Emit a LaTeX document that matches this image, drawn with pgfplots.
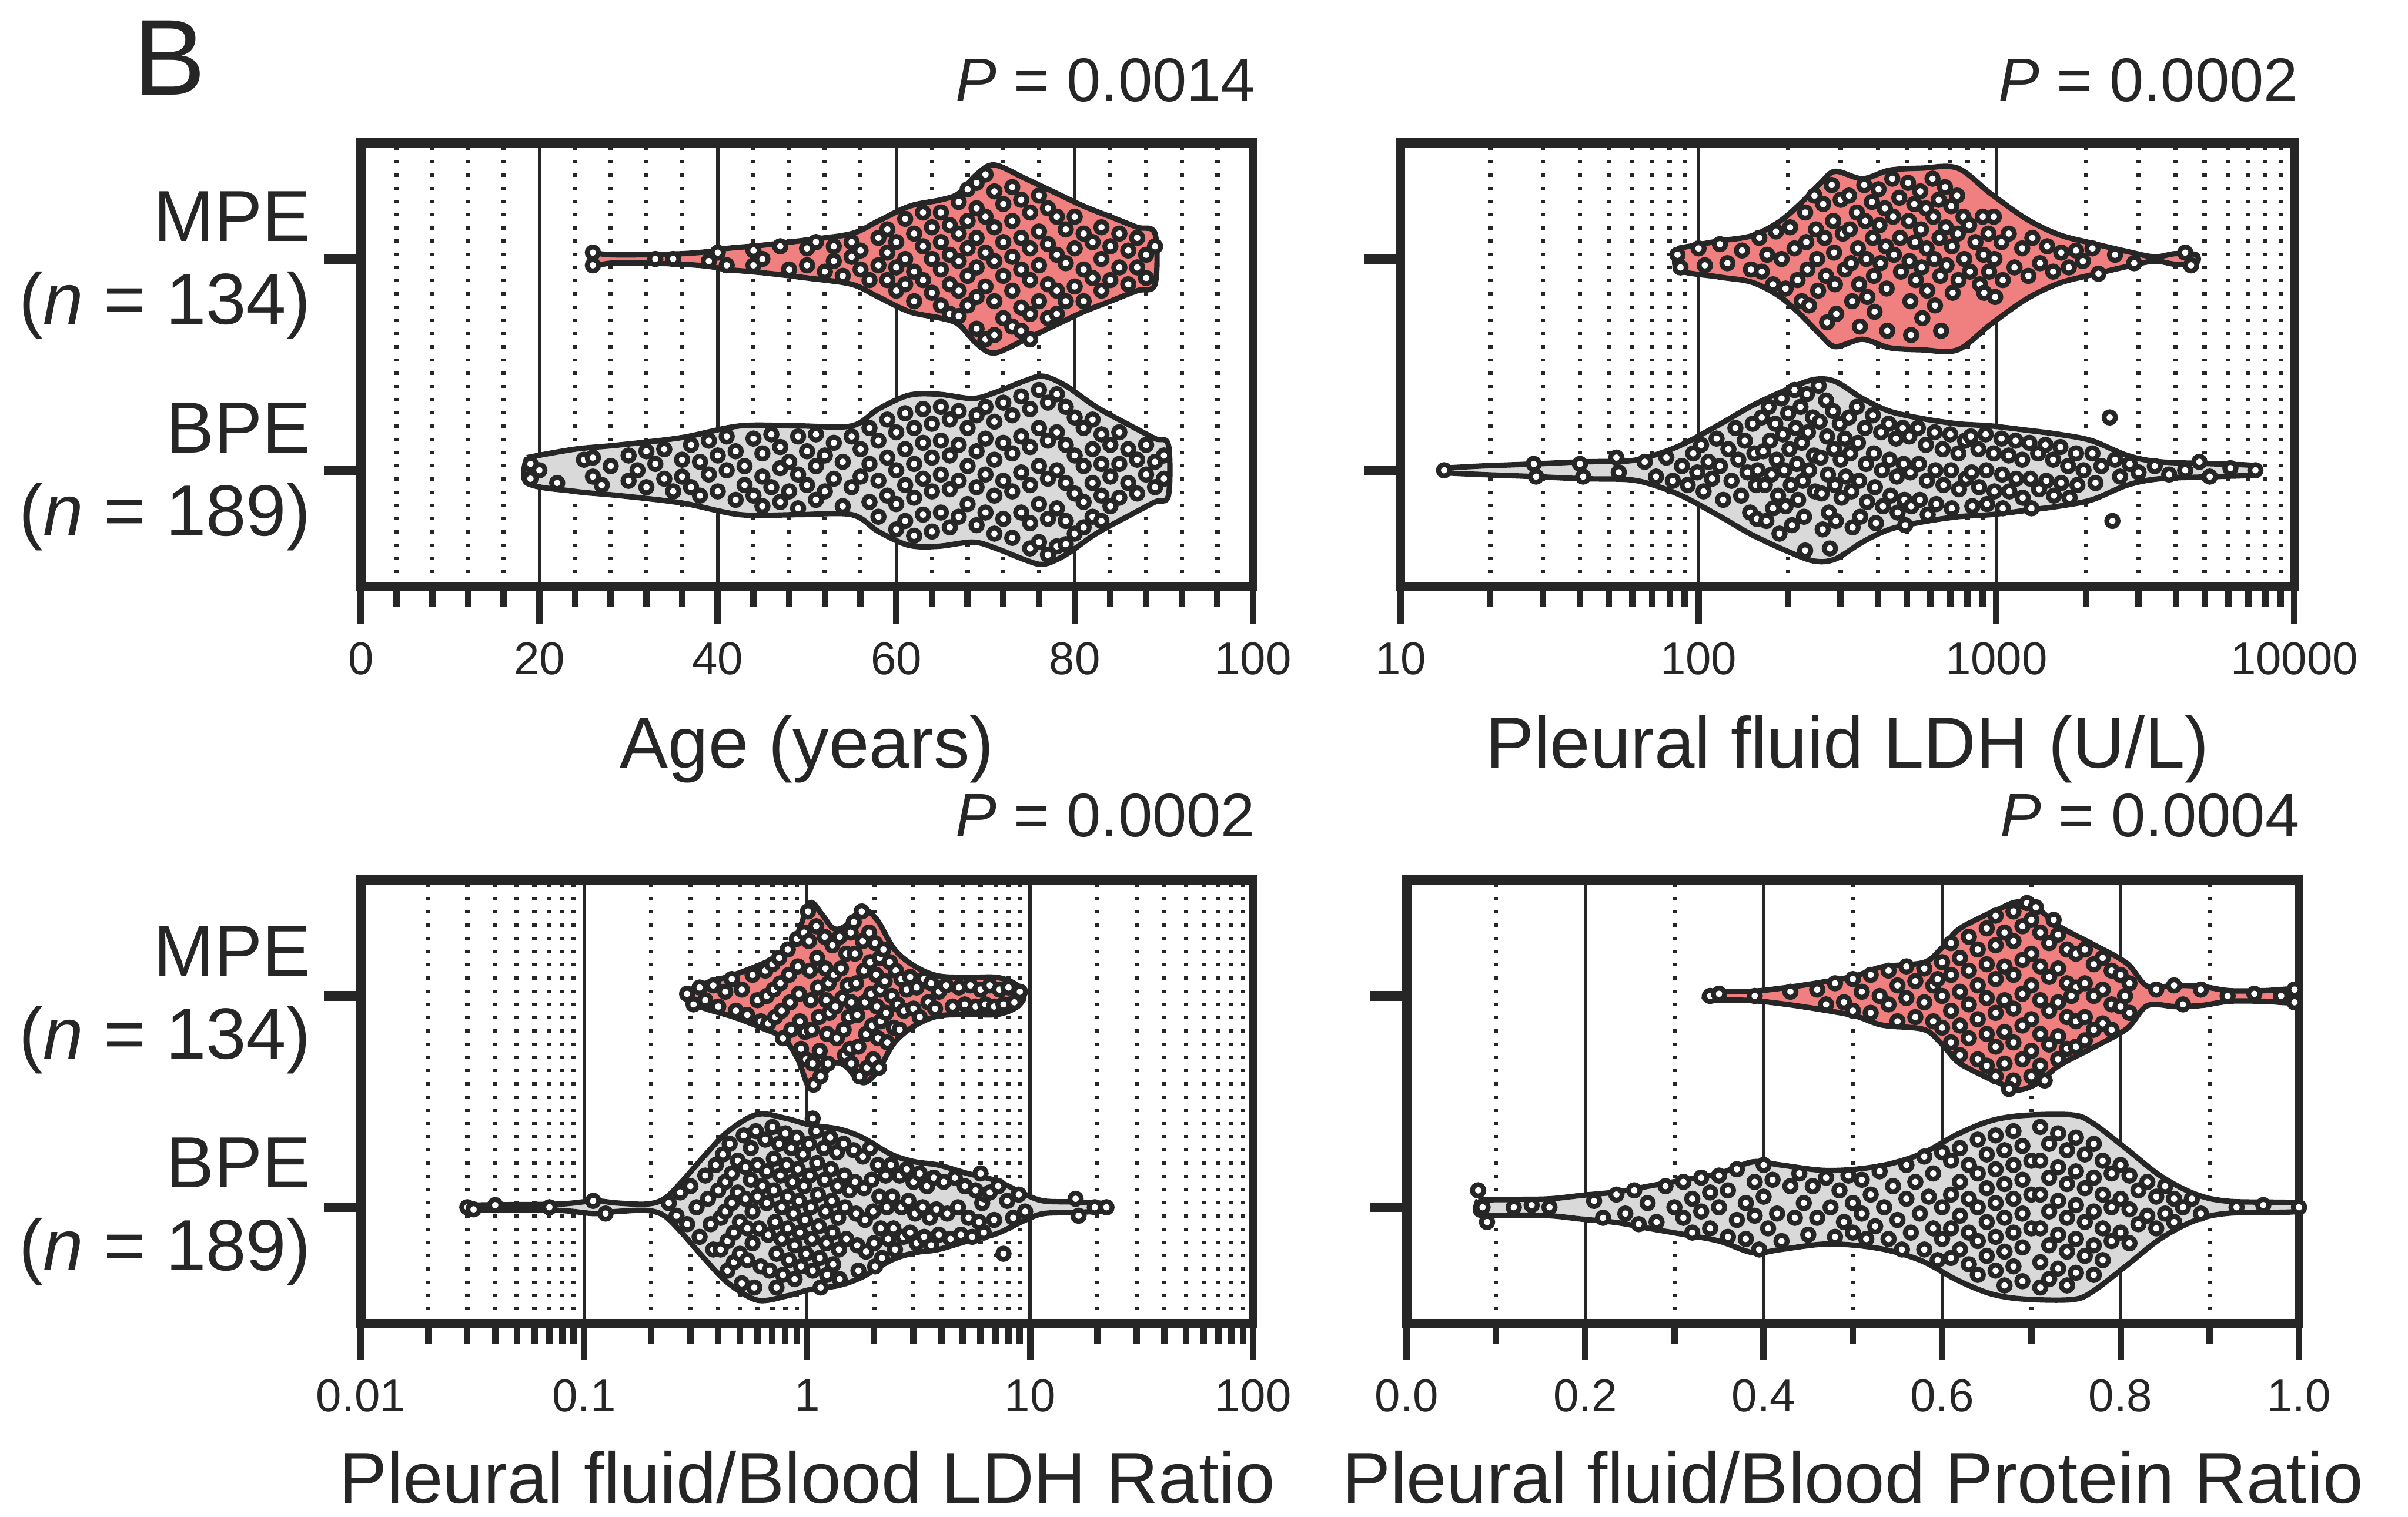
\documentclass[border=0pt]{standalone}
\usepackage{fontspec}
\setmainfont{Liberation Sans}
\usepackage{pgfplots}
\pgfplotsset{compat=1.18}
\definecolor{dk}{RGB}{38,38,38}
\definecolor{mpe}{RGB}{240,128,128}
\definecolor{bpe}{RGB}{217,217,217}
\pgfplotsset{
  panel/.style={
    scale only axis, height=2.89cm, ymin=0.45, ymax=2.55,
    ytick={1,2}, yticklabels={\relax,\relax}, ytick pos=left, xtick pos=left,
    tick align=outside, major tick length=2.4mm, minor tick length=1.3mm,
    axis line style={line width=1.7pt, dk},
    xtick style={line width=1.2pt, dk}, ytick style={line width=1.8pt, dk},
    xmajorgrids, xminorgrids,
    major grid style={line width=0.6pt, dk, solid},
    minor grid style={line width=0.8pt, dk, dash pattern=on 0.6pt off 1.85pt},
    xticklabel style={font=\fontsize{8.5}{10}\selectfont, text=dk},
    /pgf/number format/assume math mode=true,
  },
  vm/.style={draw=dk, fill=mpe, line width=1.0pt, smooth, tension=0.55},
  vb/.style={draw=dk, fill=bpe, line width=1.0pt, smooth, tension=0.55},
  dots/.style={only marks, mark=*, mark size=1.05pt, mark options={fill=white, draw=dk, line width=0.9pt}},
}
\begin{document}
\begin{tikzpicture}
\path[use as bounding box] (0,0) rectangle (15.68,9.88);
% ---------------- Top left: Age
\begin{axis}[panel, at={(2.35cm,6.06cm)}, anchor=south west, width=5.81cm,
  xmin=0, xmax=100, xtick={0,20,40,60,80,100}, xticklabels={0,20,40,60,80,100},
  minor xtick={4,8,12,16,24,28,32,36,44,48,52,56,64,68,72,76,84,88,92,96}]
\addplot[vm] coordinates {(26,2.03) (28,2.02) (32,2.02) (36,2.025) (39,2.035) (41,2.05) (45,2.065) (50,2.09) (55,2.12) (58,2.18) (61.5,2.25) (65,2.28) (67,2.31) (69,2.40) (71,2.445) (74.5,2.38) (78,2.31) (81,2.25) (84,2.2) (87,2.15) (89,2.12)
 (89,1.88) (87,1.85) (84,1.8) (81,1.75) (78,1.69) (74.5,1.62) (71,1.555) (69,1.6) (67,1.69) (65,1.72) (61.5,1.75) (58,1.82) (55,1.88) (50,1.91) (45,1.935) (41,1.95) (39,1.965) (36,1.975) (32,1.98) (28,1.98) (26,1.97) (26,2.03)};
\addplot[vb] coordinates {(18.6,1.06) (24,1.1) (29,1.12) (36,1.155) (42.5,1.21) (49,1.21) (55,1.21) (58,1.29) (61.4,1.355) (64.7,1.36) (68.6,1.34) (71.2,1.37) (74.5,1.425) (76.5,1.445) (79,1.4) (82.4,1.3) (86.3,1.21) (89,1.15) (90.5,1.12)
 (90.5,0.88) (89,0.85) (86.3,0.79) (82.4,0.7) (79,0.6) (76.5,0.555) (74.5,0.575) (71.2,0.63) (68.6,0.66) (64.7,0.64) (61.4,0.645) (58,0.71) (55,0.79) (49,0.79) (42.5,0.79) (36,0.845) (29,0.88) (24,0.9) (18.6,0.94) (18.6,1.06)};
\addplot[dots] coordinates {(26,2.03) (26,1.97) (33,2.0) (35,2.0) (39,1.99) (40,2.03) (41,1.97) (44,2.04) (44,1.97) (45,2.0) (47,2.06) (48,1.95) (50,2.05) (50,1.97)
(51,2.08) (52,1.94) (53,2.06) (53,1.99) (54,1.92) (55,2.08) (55,2.01) (56,1.95) (56,2.04) (57,1.9)
(58,2.1) (58,1.97) (59,2.14) (59,2.03) (59,1.9) (60,2.08) (60,1.96) (60,1.85) (61,2.19) (61,2.0) (61,1.88) (62,2.12) (62,1.94) (62,1.8) (63,2.22) (63,2.06) (63,1.9) (64,2.15) (64,2.0) (64,1.84)
(65,2.22) (65,2.08) (65,1.95) (65,1.78) (66,2.16) (66,2.02) (66,1.88) (66,1.74) (67,2.27) (67,2.12) (67,1.99) (67,1.85) (67,1.73) (68,2.33) (68,2.18) (68,2.05) (68,1.92) (68,1.78) (69,2.36) (69,2.24) (69,2.1) (69,1.96) (69,1.82) (69,1.67) (70,2.4) (70,2.2) (70,2.03) (70,1.87) (70,1.62)
(71,2.32) (71,2.15) (71,1.99) (71,1.8) (71,1.64) (72,2.26) (72,2.08) (72,1.92) (72,1.72) (73,2.34) (73,2.18) (73,2.01) (73,1.85) (73,1.68) (74,2.28) (74,2.1) (74,1.95) (74,1.77) (74,1.66) (75,2.22) (75,2.05) (75,1.9) (75,1.74) (75,1.62) (76,2.3) (76,2.13) (76,1.97) (76,1.8) (77,2.24) (77,2.07) (77,1.88) (77,1.72)
(78,2.2) (78,2.02) (78,1.85) (78,1.74) (79,2.14) (79,1.98) (79,1.8) (80,2.2) (80,2.05) (80,1.87) (81,2.12) (81,1.95) (81,1.8) (82,2.08) (82,1.91) (83,2.15) (83,2.0) (83,1.85) (84,2.06) (84,1.9)
(85,2.12) (85,1.96) (86,2.04) (86,1.88) (87,2.1) (87,1.96) (88,2.02) (88,1.91) (89,2.06)};
\addplot[dots] coordinates {(19,1.03) (19,0.96) (20,1.0) (22,0.94) (25,1.05) (26,0.97) (26,1.06) (27,0.93) (28,1.02) (30,1.07) (30,0.95)
(31,1.0) (32,1.09) (32,0.92) (33,1.03) (34,0.96) (34,1.1) (35,0.9) (36,1.05) (36,0.97)
(37,1.12) (37,0.92) (38,1.04) (38,0.88) (39,1.14) (39,0.98) (40,1.07) (40,0.9) (41,1.16) (41,1.0) (42,1.09) (42,0.86) (43,1.02) (43,0.93)
(44,1.15) (44,0.88) (45,1.08) (45,0.97) (45,0.83) (46,1.17) (46,0.92) (47,1.11) (47,1.01) (47,0.85) (48,1.04) (48,0.9) (49,1.16) (49,0.98) (49,0.82) (50,1.09) (50,0.93) (51,1.17) (51,1.02) (51,0.86) (52,1.07) (52,0.9) (53,1.13) (53,0.96) (54,1.04) (54,0.83) (55,1.16) (55,0.92)
(56,1.1) (56,0.97) (57,1.2) (57,1.03) (57,0.85) (58,1.14) (58,0.95) (58,0.78) (59,1.24) (59,1.06) (59,0.88) (60,1.18) (60,1.0) (60,0.84) (60,0.72)
(61,1.27) (61,1.1) (61,0.93) (61,0.76) (62,1.2) (62,1.03) (62,0.87) (62,0.69) (63,1.29) (63,1.13) (63,0.96) (63,0.79) (64,1.22) (64,1.06) (64,0.9) (64,0.71) (65,1.3) (65,1.14) (65,0.98) (65,0.8) (66,1.24) (66,1.07) (66,0.91) (66,0.73) (67,1.28) (67,1.12) (67,0.95) (67,0.78) (68,1.2) (68,1.02) (68,0.84) (69,1.26) (69,1.09) (69,0.92) (69,0.74) (70,1.3) (70,1.15) (70,0.98) (70,0.8)
(71,1.23) (71,1.05) (71,0.88) (71,0.7) (72,1.32) (72,1.13) (72,0.95) (72,0.77) (73,1.26) (73,1.08) (73,0.9) (73,0.68) (74,1.35) (74,1.16) (74,0.99) (74,0.8) (75,1.29) (75,1.11) (75,0.93) (75,0.75) (75,0.63)
(76,1.38) (76,1.2) (76,1.02) (76,0.84) (76,0.66) (77,1.32) (77,1.14) (77,0.96) (77,0.77) (77,0.6) (78,1.36) (78,1.18) (78,1.0) (78,0.82) (78,0.64) (79,1.3) (79,1.12) (79,0.94) (79,0.76) (79,0.65) (80,1.25) (80,1.07) (80,0.89) (80,0.7)
(81,1.2) (81,1.02) (81,0.85) (81,0.73) (82,1.24) (82,1.1) (82,0.94) (82,0.78) (83,1.17) (83,1.03) (83,0.88) (83,0.76) (84,1.12) (84,0.97) (84,0.83) (85,1.18) (85,1.03) (85,0.87)
(86,1.1) (86,0.94) (87,1.05) (87,0.89) (88,1.12) (88,0.98) (89,1.04) (89,0.92) (90,1.07) (90,0.96)};
\end{axis}
% ---------------- Top right: LDH
\begin{axis}[panel, at={(9.12cm,6.06cm)}, anchor=south west, width=5.82cm,
  xmode=log, log basis x=10, xmin=10, xmax=10000, xtick={10,100,1000,10000}, xticklabels={10,100,1000,10000},
  minor xtick={20,30,40,50,60,70,80,90,200,300,400,500,600,700,800,900,2000,3000,4000,5000,6000,7000,8000,9000}]
\addplot[vm] coordinates {(85,2.05) (117,2.085) (151,2.11) (186,2.175) (219,2.26) (257,2.36) (288,2.415) (355,2.38) (437,2.42) (562,2.43) (741,2.43) (955,2.31) (1259,2.19) (1622,2.115) (2089,2.075) (2754,2.035) (3388,2.01) (3981,2.025) (4677,2.02)
 (4677,1.98) (3981,1.975) (3388,1.99) (2754,1.965) (2089,1.925) (1622,1.885) (1259,1.81) (955,1.69) (741,1.57) (562,1.57) (437,1.58) (355,1.62) (288,1.585) (257,1.64) (219,1.74) (186,1.825) (151,1.89) (117,1.915) (85,1.95) (85,2.05)};
\addplot[vb] coordinates {(13.9,1.01) (18.6,1.02) (28.2,1.03) (40.7,1.04) (58.9,1.045) (72.4,1.075) (89.1,1.125) (117,1.215) (151,1.305) (200,1.385) (245,1.43) (288,1.42) (355,1.34) (437,1.28) (562,1.245) (741,1.22) (955,1.21) (1259,1.19) (1622,1.17) (2089,1.14) (2754,1.07) (3548,1.04) (5495,1.03) (7413,1.02)
 (7413,0.98) (5495,0.97) (3548,0.96) (2754,0.93) (2089,0.86) (1622,0.83) (1259,0.81) (955,0.79) (741,0.78) (562,0.755) (437,0.72) (355,0.66) (288,0.58) (245,0.57) (200,0.615) (151,0.695) (117,0.785) (89.1,0.875) (72.4,0.925) (58.9,0.955) (40.7,0.96) (28.2,0.97) (18.6,0.98) (13.9,0.99) (13.9,1.01)};
\addplot[dots] coordinates {(85,2.02) (87,1.96) (100,2.05) (105,1.97) (118,2.07) (125,1.98) (140,2.04) (150,1.95)
(160,2.1) (163,1.94) (170,2.02) (178,1.88) (182,2.13) (190,2.0) (196,1.86) (203,2.15) (210,2.05) (215,1.9) (222,1.8)
(228,2.22) (230,2.08) (232,1.95) (235,1.78) (245,2.3) (248,2.14) (250,2.0) (252,1.85) (262,2.26) (265,2.1) (268,1.92) (270,1.7) (280,2.35) (283,2.18) (285,2.03) (287,1.88) (290,1.74) (300,2.28) (305,2.12) (310,1.95)
(320,2.3) (322,2.14) (325,1.98) (328,1.8) (340,2.22) (343,2.05) (346,1.88) (348,1.68) (360,2.35) (363,2.18) (366,2.0) (369,1.82) (382,2.27) (385,2.1) (388,1.92) (390,1.75) (402,2.33) (405,2.16) (408,1.98) (422,2.24) (425,2.06) (428,1.86) (430,1.66) (447,2.38) (450,2.2) (453,2.02) (472,2.29) (475,2.1) (478,1.94)
(505,2.36) (508,2.18) (511,1.99) (514,1.8) (517,1.64) (530,2.26) (533,2.08) (536,1.9) (555,2.32) (558,2.14) (561,1.96) (564,1.72) (580,2.24) (583,2.05) (586,1.85) (610,2.38) (614,2.2) (618,2.0) (622,1.78) (640,2.28) (644,2.1) (648,1.92) (652,1.66) (672,2.34) (676,2.15) (680,1.97) (705,2.25) (709,2.06) (713,1.84) (738,2.3) (742,2.12) (746,1.9) (775,2.2) (780,2.0) (810,2.16) (815,1.94) (850,2.08) (880,1.88)
(900,2.2) (905,2.02) (910,1.84) (940,2.12) (945,1.94) (980,2.2) (985,2.0) (990,1.82) (1040,2.08) (1050,1.9) (1100,2.12) (1150,1.96) (1220,2.05)
(1280,1.92) (1320,2.1) (1400,1.98) (1480,2.06) (1550,1.94) (1650,2.03) (1750,1.96) (1850,2.04) (1950,1.99)
(2100,2.05) (2200,1.93) (2500,2.02) (2900,1.98) (4300,2.03) (4500,1.97)};
\addplot[dots] coordinates {(14,1.0) (28,1.03) (28.5,0.97) (40,1.03) (41,0.97) (53,1.06) (54,0.99)
(66,1.04) (72,0.97) (78,1.06) (82,0.95) (88,1.02) (92,0.93) (96,1.08) (99,0.99)
(102,1.12) (104,0.9) (108,1.04) (111,0.96) (115,1.15) (118,1.02) (121,0.86) (126,1.1) (129,0.95) (133,1.2) (136,1.05) (139,0.88) (143,1.14) (146,0.99) (149,0.8) (152,1.22) (154,1.08) (156,0.93) (157,0.77) (158,1.0)
(163,1.25) (165,1.09) (167,0.93) (169,0.76) (172,1.3) (174,1.14) (176,0.98) (178,0.82) (181,1.22) (183,1.05) (185,0.88) (187,0.7) (190,1.34) (192,1.17) (194,1.0) (196,0.83) (200,1.27) (202,1.1) (204,0.93) (206,0.74) (210,1.38) (212,1.2) (214,1.03) (216,0.86) (220,1.3) (222,1.13) (224,0.95) (226,0.78) (228,0.62) (231,1.36) (233,1.18) (235,1.0) (242,1.25) (244,1.07) (246,0.9)
(253,1.4) (255,1.23) (257,1.06) (259,0.89) (261,0.72) (268,1.33) (270,1.16) (272,0.98) (274,0.8) (276,0.63) (283,1.28) (285,1.1) (287,0.93) (289,0.76) (298,1.22) (300,1.05) (302,0.87) (310,1.15) (312,0.97)
(320,1.25) (323,1.08) (326,0.9) (329,0.73) (340,1.3) (343,1.13) (346,0.95) (349,0.78) (362,1.2) (365,1.03) (368,0.85) (385,1.26) (388,1.08) (391,0.92) (394,0.75) (410,1.18) (413,1.0) (416,0.83) (435,1.22) (438,1.05) (441,0.88) (460,1.15) (463,0.97) (466,0.8) (485,1.2) (488,1.03) (491,0.86) (494,0.74)
(510,1.16) (514,0.99) (518,0.83) (545,1.2) (549,1.03) (553,0.86) (580,1.12) (584,0.95) (588,0.79) (620,1.18) (624,1.0) (628,0.84) (660,1.1) (664,0.93) (700,1.17) (704,1.0) (708,0.82) (745,1.08) (749,0.91) (785,1.14) (790,0.96)
(820,1.16) (825,0.99) (830,0.83) (870,1.1) (875,0.92) (920,1.17) (925,1.0) (930,0.84) (980,1.08) (985,0.9) (1040,1.15) (1045,0.98) (1050,0.82) (1100,1.07) (1105,0.9) (1160,1.14) (1165,0.96) (1220,1.05) (1225,0.87)
(1290,1.13) (1300,0.96) (1310,0.82) (1380,1.08) (1390,0.91) (1460,1.12) (1470,0.95) (1550,1.05) (1560,0.88) (1640,1.11) (1650,0.94) (1740,1.02) (1760,0.87) (1850,1.08) (1870,0.93) (1960,1.0)
(2100,1.08) (2150,0.94) (2250,1.02) (2400,1.25) (2450,0.76) (2500,1.05) (2600,0.97) (2800,1.03) (3000,0.99)
(3400,1.02) (3800,0.98) (4300,1.0) (4800,1.04) (5200,0.97) (6100,1.01) (7400,1.0)};
\end{axis}
% ---------------- Bottom left: LDH ratio
\begin{axis}[panel, at={(2.35cm,1.26cm)}, anchor=south west, width=5.81cm,
  xmode=log, log basis x=10, xmin=0.01, xmax=100, xtick={0.01,0.1,1,10,100}, xticklabels={0.01,0.1,1,10,100},
  minor xtick={0.02,0.03,0.04,0.05,0.06,0.07,0.08,0.09,0.2,0.3,0.4,0.5,0.6,0.7,0.8,0.9,2,3,4,5,6,7,8,9,20,30,40,50,60,70,80,90}]
\addplot[vm] coordinates {(0.29,2.02) (0.35,2.06) (0.47,2.1) (0.64,2.155) (0.785,2.2) (0.91,2.3) (1.03,2.44) (1.16,2.39) (1.31,2.32) (1.48,2.33) (1.77,2.41) (2.06,2.36) (2.47,2.22) (3.05,2.14) (3.87,2.095) (5.24,2.088) (7.08,2.088) (8.5,2.06) (9.3,2.02)
 (9.3,1.98) (8.5,1.94) (7.08,1.912) (5.24,1.912) (3.87,1.905) (3.05,1.86) (2.47,1.78) (2.06,1.64) (1.77,1.59) (1.48,1.67) (1.31,1.68) (1.16,1.61) (1.03,1.56) (0.91,1.7) (0.785,1.8) (0.64,1.845) (0.47,1.9) (0.35,1.94) (0.29,1.98) (0.29,2.02)};
\addplot[vb] coordinates {(0.0296,1.01) (0.042,1.012) (0.078,1.015) (0.111,1.03) (0.141,1.02) (0.191,1.015) (0.229,1.04) (0.274,1.12) (0.348,1.245) (0.444,1.36) (0.6,1.44) (0.81,1.42) (1.03,1.39) (1.39,1.37) (1.77,1.33) (2.39,1.25) (3.05,1.215) (3.87,1.2) (5.24,1.16) (7.08,1.125) (9.55,1.06) (11.5,1.03) (15.5,1.025) (19.7,1.02) (22.2,1.015)
 (22.2,0.985) (19.7,0.98) (15.5,0.975) (11.5,0.97) (9.55,0.94) (7.08,0.875) (5.24,0.84) (3.87,0.8) (3.05,0.785) (2.39,0.75) (1.77,0.67) (1.39,0.63) (1.03,0.61) (0.81,0.58) (0.6,0.56) (0.444,0.64) (0.348,0.755) (0.274,0.88) (0.229,0.96) (0.191,0.985) (0.141,0.98) (0.111,0.97) (0.078,0.985) (0.042,0.988) (0.0296,0.99) (0.0296,1.01)};
\addplot[dots] coordinates {(0.29,2.01) (0.31,1.96) (0.33,2.04) (0.35,1.98) (0.38,2.05) (0.4,1.95) (0.43,2.02) (0.46,2.08) (0.48,1.93) (0.51,2.03) (0.54,1.91) (0.57,2.1) (0.6,1.98) (0.62,1.88)
(0.65,2.12) (0.66,2.0) (0.67,1.87) (0.7,2.15) (0.71,2.03) (0.72,1.9) (0.75,2.18) (0.76,2.06) (0.77,1.93) (0.78,1.8) (0.82,2.22) (0.83,2.1) (0.84,1.97) (0.85,1.84) (0.9,2.27) (0.91,2.14) (0.92,2.01) (0.93,1.88) (0.94,1.75) (0.97,2.3) (0.98,1.83) (0.99,1.7)
(1.01,2.4) (1.02,2.26) (1.03,2.12) (1.04,1.98) (1.05,1.84) (1.06,1.68) (1.07,1.58) (1.1,2.33) (1.11,2.18) (1.12,2.04) (1.13,1.9) (1.14,1.74) (1.15,1.62) (1.2,2.28) (1.21,2.13) (1.22,1.98) (1.23,1.82) (1.24,1.68) (1.25,2.06) (1.26,1.92)
(1.3,2.24) (1.32,2.1) (1.34,1.95) (1.36,1.8) (1.4,2.28) (1.42,2.13) (1.44,1.99) (1.46,1.84) (1.48,1.72) (1.5,2.2) (1.52,2.05) (1.54,1.9) (1.56,1.75) (1.57,2.3) (1.58,1.97) (1.58,1.68)
(1.62,2.35) (1.64,2.2) (1.66,2.06) (1.68,1.91) (1.7,1.76) (1.72,1.62) (1.76,2.4) (1.78,2.26) (1.8,2.12) (1.82,1.97) (1.84,1.82) (1.86,1.66) (1.9,2.3) (1.92,2.16) (1.94,2.01) (1.96,1.86) (1.98,1.7) (2.02,2.25) (2.04,2.1) (2.06,1.95) (2.08,1.8) (2.1,1.66) (2.12,2.18) (2.13,2.03) (2.14,1.88)
(2.2,2.22) (2.23,2.07) (2.26,1.92) (2.29,1.78) (2.35,2.16) (2.4,2.0) (2.45,1.85) (2.5,2.12) (2.55,1.96) (2.6,1.84) (2.65,2.08) (2.72,1.93) (2.8,2.03)
(2.9,2.09) (3.0,1.94) (3.1,2.04) (3.2,1.9) (3.35,2.08) (3.5,1.97) (3.6,2.06) (3.75,1.94) (3.9,2.02)
(4.2,2.05) (4.5,1.95) (4.8,2.04) (5.1,1.96) (5.4,2.05) (5.7,1.95) (6.0,2.03) (6.3,1.96) (6.6,2.05) (6.9,1.95) (7.3,2.03) (7.6,1.96) (8.0,2.04) (8.5,1.97) (9.0,2.02)};
\addplot[dots] coordinates {(0.03,1.0) (0.032,0.99) (0.04,1.01) (0.07,1.0) (0.11,1.03) (0.125,0.97)
(0.24,1.02) (0.26,0.96) (0.27,1.07) (0.29,0.92) (0.3,1.1) (0.32,1.0) (0.33,0.86) (0.35,1.15) (0.36,1.04) (0.37,0.92) (0.38,0.8) (0.39,1.2) (0.4,1.08)
(0.41,0.95) (0.41,0.8) (0.42,1.25) (0.43,1.12) (0.43,0.98) (0.44,0.84) (0.44,0.7) (0.45,1.3) (0.46,1.16) (0.46,1.02) (0.47,0.88) (0.47,0.74) (0.49,1.22) (0.49,1.07) (0.5,0.93) (0.5,0.78) (0.51,0.64) (0.52,1.34) (0.53,1.19) (0.53,1.04) (0.54,0.9) (0.54,0.75) (0.56,1.28) (0.56,1.13) (0.57,0.98) (0.57,0.83) (0.58,0.62) (0.59,1.36) (0.6,1.2) (0.6,1.05) (0.61,0.9) (0.62,0.72) (0.63,1.1)
(0.65,1.32) (0.66,1.17) (0.66,1.02) (0.67,0.87) (0.68,0.7) (0.7,1.38) (0.71,1.23) (0.71,1.08) (0.72,0.93) (0.73,0.78) (0.73,0.62) (0.75,1.3) (0.76,1.15) (0.77,1.0) (0.77,0.85) (0.78,0.68) (0.8,1.35) (0.81,1.2) (0.82,1.05) (0.82,0.9) (0.83,0.75) (0.85,1.28) (0.86,1.12) (0.87,0.97) (0.88,0.82) (0.88,0.66) (0.9,1.33) (0.91,1.18) (0.92,1.03) (0.93,0.88) (0.94,0.72) (0.96,1.25) (0.97,1.1) (0.98,0.94) (0.99,0.78)
(1.02,1.3) (1.03,1.15) (1.04,1.0) (1.05,0.85) (1.06,0.7) (1.06,1.42) (1.1,1.36) (1.11,1.21) (1.12,1.06) (1.13,0.91) (1.14,0.76) (1.15,0.62) (1.19,1.28) (1.2,1.13) (1.21,0.98) (1.22,0.83) (1.23,0.68) (1.27,1.33) (1.28,1.18) (1.29,1.03) (1.3,0.88) (1.31,0.73) (1.36,1.26) (1.37,1.1) (1.38,0.95) (1.39,0.8) (1.4,0.66) (1.46,1.3) (1.47,1.15) (1.48,1.0) (1.5,0.85) (1.55,1.08)
(1.62,1.27) (1.64,1.12) (1.66,0.97) (1.68,0.82) (1.7,0.7) (1.78,1.24) (1.8,1.09) (1.82,0.94) (1.84,0.79) (1.92,1.28) (1.95,1.13) (1.98,0.98) (2.0,0.83) (2.02,0.72) (2.08,1.2) (2.11,1.05) (2.14,0.9) (2.17,0.76) (2.25,1.15) (2.28,1.0) (2.31,0.85) (2.38,1.2) (2.41,1.05) (2.44,0.9) (2.48,0.8)
(2.6,1.15) (2.65,1.0) (2.7,0.86) (2.8,1.18) (2.85,1.03) (2.9,0.88) (3.0,1.12) (3.05,0.97) (3.1,0.83) (3.2,1.16) (3.3,1.0) (3.35,0.86) (3.45,1.1) (3.55,0.95) (3.6,0.82) (3.7,1.14) (3.8,0.99) (3.9,0.87)
(4.1,1.12) (4.25,0.97) (4.4,0.85) (4.6,1.14) (4.75,1.0) (4.9,0.87) (5.1,1.1) (5.3,0.95) (5.5,0.86) (5.7,1.08) (5.9,0.93) (6.0,1.16) (6.1,1.02) (6.2,0.88) (6.3,1.06)
(6.6,1.07) (6.9,0.94) (7.2,1.1) (7.6,0.78) (7.9,1.03) (8.4,0.95) (8.9,1.06) (9.5,0.98)
(16,1.04) (16.5,0.96) (19.5,1.0) (22,1.0)};
\end{axis}
% ---------------- Bottom right: protein ratio
\begin{axis}[panel, at={(9.16cm,1.26cm)}, anchor=south west, width=5.81cm,
  xmin=0, xmax=1, xtick={0,0.2,0.4,0.6,0.8,1}, xticklabels={0.0,0.2,0.4,0.6,0.8,1.0},
  minor xtick={0.1,0.3,0.5,0.7,0.9}]
\addplot[vm] coordinates {(0.335,2.015) (0.358,2.02) (0.388,2.022) (0.426,2.04) (0.465,2.065) (0.503,2.095) (0.533,2.138) (0.579,2.158) (0.598,2.22) (0.617,2.31) (0.64,2.365) (0.663,2.41) (0.685,2.445) (0.708,2.41) (0.731,2.33) (0.769,2.245) (0.807,2.155) (0.83,2.046) (0.861,2.05) (0.891,2.045) (0.922,2.025) (0.96,2.025) (0.998,2.03)
 (0.998,1.97) (0.96,1.975) (0.922,1.975) (0.891,1.955) (0.861,1.95) (0.83,1.954) (0.807,1.845) (0.769,1.755) (0.731,1.67) (0.708,1.59) (0.685,1.555) (0.663,1.59) (0.64,1.635) (0.617,1.69) (0.598,1.78) (0.579,1.842) (0.533,1.862) (0.503,1.905) (0.465,1.935) (0.426,1.96) (0.388,1.978) (0.358,1.98) (0.335,1.985) (0.335,2.015)};
\addplot[vb] coordinates {(0.08,1.035) (0.122,1.037) (0.16,1.04) (0.198,1.057) (0.236,1.073) (0.274,1.102) (0.312,1.13) (0.35,1.16) (0.388,1.215) (0.419,1.2) (0.465,1.175) (0.503,1.18) (0.541,1.205) (0.579,1.257) (0.617,1.345) (0.655,1.41) (0.693,1.435) (0.746,1.437) (0.769,1.398) (0.807,1.275) (0.845,1.148) (0.884,1.062) (0.922,1.028) (0.998,1.02)
 (0.998,0.98) (0.922,0.972) (0.884,0.938) (0.845,0.852) (0.807,0.725) (0.769,0.602) (0.746,0.563) (0.693,0.565) (0.655,0.59) (0.617,0.655) (0.579,0.743) (0.541,0.795) (0.503,0.82) (0.465,0.825) (0.419,0.8) (0.388,0.785) (0.35,0.84) (0.312,0.87) (0.274,0.898) (0.236,0.927) (0.198,0.943) (0.16,0.96) (0.122,0.963) (0.08,0.965) (0.08,1.035)};
\addplot[dots] coordinates {(0.34,2.0) (0.35,2.01) (0.39,2.0) (0.43,2.02)
(0.46,2.03) (0.47,1.96) (0.48,2.06) (0.49,1.97) (0.5,2.08) (0.5,1.93) (0.51,2.02) (0.52,2.1) (0.52,1.92) (0.53,2.0)
(0.54,2.12) (0.54,1.96) (0.55,2.05) (0.55,1.88) (0.56,2.14) (0.56,1.99) (0.57,2.07) (0.57,1.9) (0.58,2.13) (0.58,1.97) (0.59,2.05) (0.59,1.88) (0.6,2.16) (0.6,2.0) (0.6,1.85) (0.595,2.08)
(0.61,2.25) (0.61,2.1) (0.61,1.93) (0.61,1.78) (0.62,2.18) (0.62,2.02) (0.62,1.86) (0.62,1.72) (0.63,2.28) (0.63,2.12) (0.63,1.96) (0.63,1.8) (0.64,2.22) (0.64,2.05) (0.64,1.89) (0.64,1.7) (0.65,2.32) (0.65,2.15) (0.65,1.99) (0.65,1.82) (0.65,1.67)
(0.66,2.38) (0.66,2.24) (0.66,2.08) (0.66,1.92) (0.66,1.76) (0.66,1.62) (0.67,2.3) (0.67,2.14) (0.67,1.98) (0.67,1.83) (0.67,1.68) (0.68,2.4) (0.68,2.26) (0.68,2.1) (0.68,1.94) (0.68,1.78) (0.68,1.6) (0.69,2.33) (0.69,2.17) (0.69,2.01) (0.69,1.86) (0.69,1.7) (0.7,2.36) (0.7,2.2) (0.7,2.05) (0.7,1.89) (0.7,1.74) (0.7,1.62) (0.695,2.44) (0.675,1.56)
(0.71,2.3) (0.71,2.14) (0.71,1.98) (0.71,1.82) (0.71,1.67) (0.72,2.25) (0.72,2.09) (0.72,1.93) (0.72,1.77) (0.73,2.29) (0.73,2.13) (0.73,1.97) (0.73,1.81) (0.73,1.7) (0.74,2.22) (0.74,2.06) (0.74,1.9) (0.74,1.75) (0.75,2.2) (0.75,2.04) (0.75,1.88) (0.75,1.76) (0.705,2.42) (0.715,1.6) (0.725,2.36) (0.745,2.0)
(0.76,2.22) (0.76,2.06) (0.76,1.9) (0.76,1.79) (0.77,2.15) (0.77,2.0) (0.77,1.84) (0.78,2.18) (0.78,2.03) (0.78,1.87) (0.79,2.12) (0.79,1.96) (0.79,1.84) (0.8,2.1) (0.8,1.95) (0.81,2.06) (0.81,1.92) (0.805,2.0)
(0.84,2.03) (0.86,2.05) (0.87,1.96) (0.89,2.03) (0.92,2.0) (0.95,2.01) (0.98,2.0) (0.995,2.03) (0.995,1.97)};
\addplot[dots] coordinates {(0.08,1.08) (0.085,1.0) (0.09,0.93) (0.12,1.0) (0.14,1.01) (0.16,1.0)
(0.21,1.03) (0.22,0.95) (0.235,1.06) (0.245,0.97) (0.255,1.08) (0.26,0.92) (0.27,1.02) (0.28,0.93) (0.29,1.1) (0.3,1.0)
(0.31,1.12) (0.31,0.95) (0.32,1.04) (0.32,0.88) (0.33,1.14) (0.33,0.98) (0.34,1.07) (0.34,0.9) (0.35,1.15) (0.35,1.0) (0.36,0.86) (0.36,1.08) (0.37,0.94) (0.37,1.18) (0.38,1.02) (0.38,0.85) (0.39,1.12) (0.39,0.96) (0.395,0.8)
(0.4,1.2) (0.4,1.05) (0.405,0.9) (0.41,1.13) (0.415,0.97) (0.42,0.84) (0.43,1.1) (0.435,0.95) (0.44,1.16) (0.445,1.02) (0.45,0.87) (0.455,1.1) (0.46,0.95) (0.47,1.14) (0.475,1.0) (0.48,0.86) (0.485,1.08) (0.49,0.93) (0.495,1.15) (0.5,1.02) (0.5,0.88)
(0.51,1.13) (0.51,0.97) (0.515,0.85) (0.52,1.06) (0.525,0.91) (0.53,1.17) (0.535,1.0) (0.54,0.85) (0.545,1.1) (0.55,0.94) (0.555,0.8) (0.56,1.2) (0.56,1.04) (0.565,0.88) (0.57,1.12) (0.575,0.97) (0.58,0.8) (0.58,1.24) (0.585,1.05) (0.59,0.9) (0.59,1.16) (0.595,0.75) (0.6,1.0) (0.6,1.26) (0.6,0.85)
(0.61,1.22) (0.61,1.06) (0.61,0.9) (0.61,0.76) (0.62,1.28) (0.62,1.12) (0.62,0.96) (0.62,0.8) (0.63,1.2) (0.63,1.04) (0.63,0.88) (0.63,0.73) (0.64,1.32) (0.64,1.16) (0.64,1.0) (0.64,0.84) (0.64,0.68) (0.65,1.25) (0.65,1.09) (0.65,0.93) (0.65,0.77) (0.66,1.34) (0.66,1.18) (0.66,1.02) (0.66,0.86) (0.66,0.7) (0.67,1.27) (0.67,1.11) (0.67,0.95) (0.67,0.79) (0.67,0.63) (0.68,1.36) (0.68,1.2) (0.68,1.04) (0.68,0.88) (0.68,0.72) (0.69,1.29) (0.69,1.13) (0.69,0.97) (0.69,0.81) (0.69,0.65) (0.7,1.22) (0.7,1.06) (0.7,0.9)
(0.71,1.38) (0.71,1.22) (0.71,1.06) (0.71,0.9) (0.71,0.74) (0.71,0.62) (0.72,1.3) (0.72,1.14) (0.72,0.98) (0.72,0.82) (0.72,0.66) (0.73,1.35) (0.73,1.19) (0.73,1.03) (0.73,0.87) (0.73,0.71) (0.74,1.27) (0.74,1.11) (0.74,0.95) (0.74,0.79) (0.74,0.63) (0.75,1.33) (0.75,1.17) (0.75,1.01) (0.75,0.85) (0.75,0.69) (0.76,1.25) (0.76,1.09) (0.76,0.93) (0.76,0.77) (0.77,1.3) (0.77,1.14) (0.77,0.98) (0.77,0.82) (0.77,0.68) (0.78,1.22) (0.78,1.06) (0.78,0.9) (0.78,0.75) (0.79,1.16) (0.79,1.0) (0.79,0.84) (0.8,1.2) (0.8,1.04) (0.8,0.88)
(0.81,1.15) (0.81,0.99) (0.81,0.83) (0.82,1.08) (0.82,0.92) (0.83,1.12) (0.83,0.96) (0.84,1.05) (0.84,0.9) (0.85,1.1) (0.85,0.97) (0.86,1.04) (0.86,0.93) (0.87,1.0) (0.88,1.04) (0.89,0.97)
(0.93,1.0) (0.96,1.01) (1.0,1.0)};
\end{axis}
% ---------------- Texts
\node[anchor=base west, inner sep=0pt, font=\fontsize{20}{24}\selectfont, text=dk] at (0.865,9.26) {B};
\begin{scope}[every node/.style={inner sep=0pt, text=dk, font=\fontsize{11.4}{13}\selectfont, anchor=base east}]
\node at (8.18,9.22) {\textit{P} = 0.0014};
\node at (14.97,9.22) {\textit{P} = 0.0002};
\node at (8.18,4.43) {\textit{P} = 0.0002};
\node at (14.98,4.43) {\textit{P} = 0.0004};
\end{scope}
\begin{scope}[every node/.style={inner sep=0pt, text=dk, font=\fontsize{13.4}{16}\selectfont, anchor=base}]
\node at (5.255,4.88) {Age (years)};
\node at (12.03,4.88) {Pleural fluid LDH (U/L)};
\node at (5.255,0.09) {Pleural fluid/Blood LDH Ratio};
\node at (12.065,0.09) {Pleural fluid/Blood Protein Ratio};
\end{scope}
\begin{scope}[every node/.style={inner sep=0pt, text=dk, font=\fontsize{13.4}{16}\selectfont, anchor=base east}]
\node at (2.03,8.31) {MPE};
\node at (2.03,7.77) {(\textit{n} = 134)};
\node at (2.03,6.93) {BPE};
\node at (2.03,6.39) {(\textit{n} = 189)};
\node at (2.03,3.525) {MPE};
\node at (2.03,2.985) {(\textit{n} = 134)};
\node at (2.03,2.145) {BPE};
\node at (2.03,1.605) {(\textit{n} = 189)};
\end{scope}
\end{tikzpicture}
\end{document}
